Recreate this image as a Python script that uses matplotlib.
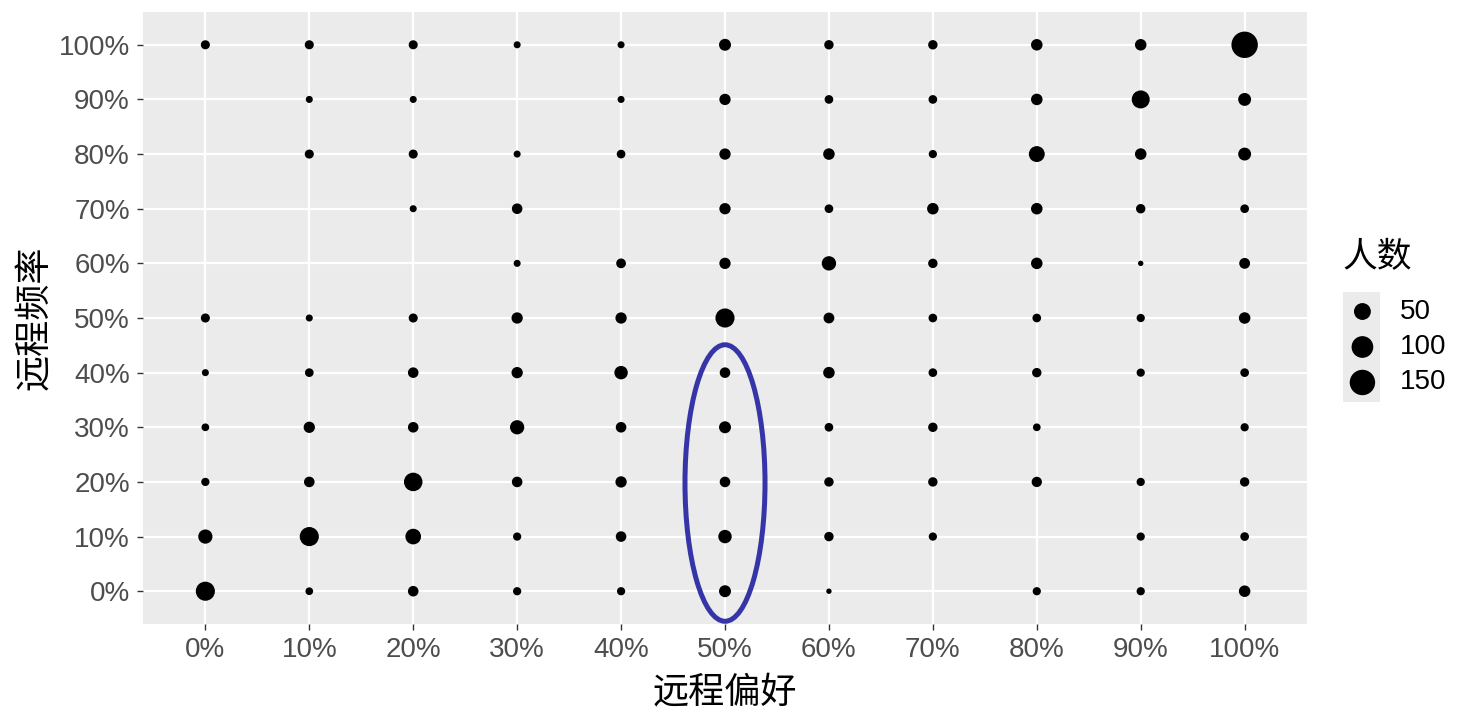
import matplotlib

matplotlib.use("Agg")
import matplotlib.pyplot as plt
import numpy as np
from matplotlib.patches import Ellipse

plt.rcParams["font.family"] = ["Liberation Sans", "Noto Sans CJK SC", "DejaVu Sans"]

# levels of both axes, in percent
x_levels = [0, 10, 20, 30, 40, 50, 60, 70, 80, 90, 100]
y_levels = [100, 90, 80, 70, 60, 50, 40, 30, 20, 10, 0]  # row order of counts below
tick_labels = [f"{v}%" for v in x_levels]

# 人数 per cell; rows = 远程频率 100% .. 0%, columns = 远程偏好 0% .. 100%
counts = [
    [6, 6, 6, 2, 2, 17, 7, 7, 15, 15, 165],
    [None, 2, 2, None, 2, 14, 5, 5, 15, 60, 22],
    [None, 6, 6, 2, 5, 14, 15, 4, 42, 15, 22],
    [None, None, 2, 11, None, 14, 5, 15, 15, 7, 5],
    [None, None, None, 2, 8, 14, 31, 7, 15, 1, 12],
    [6, 2, 6, 14, 14, 71, 12, 5, 5, 4, 15],
    [2, 5, 11, 14, 25, 11, 15, 5, 7, 4, 5],
    [3, 14, 11, 30, 11, 17, 5, 7, 3, None, 4],
    [4, 11, 65, 11, 14, 11, 7, 7, 10, 4, 7],
    [30, 71, 40, 4, 11, 25, 7, 4, None, 4, 5],
    [71, 3, 11, 4, 4, 17, 1, None, 4, 4, 15],
]
legend_values = [50, 100, 150]

xs, ys, ns = [], [], []
for yv, row in zip(y_levels, counts):
    for xv, n in zip(x_levels, row):
        if n is not None:
            xs.append(xv)
            ys.append(yv)
            ns.append(n)
ns = np.array(ns, dtype=float)
n_min, n_max = ns.min(), ns.max()


def size_pt2(n):
    # ggplot2 scale_size: area scaled into range (1, 6), plus the stroke
    t = np.clip((np.asarray(n, dtype=float) - n_min) / (n_max - n_min), 0, 1)
    d_px = 1.2 + 4.2 * (1 + 5 * np.sqrt(t))
    return (d_px * 0.72) ** 2


fig = plt.figure(figsize=(14.75, 7.2), dpi=100)
ax = fig.add_axes([143 / 1475, 96 / 720, 1164 / 1475, 612 / 720])
ax.set_facecolor("#ebebeb")
for s in ax.spines.values():
    s.set_visible(False)
ax.grid(True, color="white", lw=1.6)
ax.set_axisbelow(True)

ax.scatter(xs, ys, s=size_pt2(ns), c="black", linewidths=0, zorder=3)

ax.add_patch(Ellipse((50, 19.8), 7.7, 50.6, fill=False, ec="#3535a8", lw=3.6, zorder=4))

ax.set_xlim(-6, 106)
ax.set_ylim(-6, 106)
ax.set_xticks(x_levels)
ax.set_xticklabels(tick_labels)
ax.set_yticks(x_levels)
ax.set_yticklabels(tick_labels)
ax.tick_params(axis="both", length=4.5, width=1, color="#333333", labelcolor="#4d4d4d",
               labelsize=20, pad=5)
ax.set_xlabel("远程偏好", fontsize=26, color="black", labelpad=9)
ax.set_ylabel("远程频率", fontsize=26, color="black", labelpad=4)

# legend
lax = fig.add_axes([1343 / 1475, (720 - 402) / 720, 37 / 1475, 110 / 720])
lax.set_facecolor("#ebebeb")
for s in lax.spines.values():
    s.set_visible(False)
lax.set_xticks([])
lax.set_yticks([])
lax.set_xlim(-1, 1)
lax.set_ylim(2.55, -0.55)
key_pos = list(range(len(legend_values)))
lax.scatter([0.05] * len(legend_values), key_pos, s=size_pt2(legend_values), c="black",
            linewidths=0, clip_on=False)
for k, v in zip(key_pos, legend_values):
    lax.text(2.05, k, str(v), fontsize=20, va="center", ha="left", color="black",
             transform=lax.transData, clip_on=False)
fig.text(1343 / 1475, 1 - 258 / 720, "人数", fontsize=25, va="center", ha="left")

fig.savefig("out.png", dpi=100)
